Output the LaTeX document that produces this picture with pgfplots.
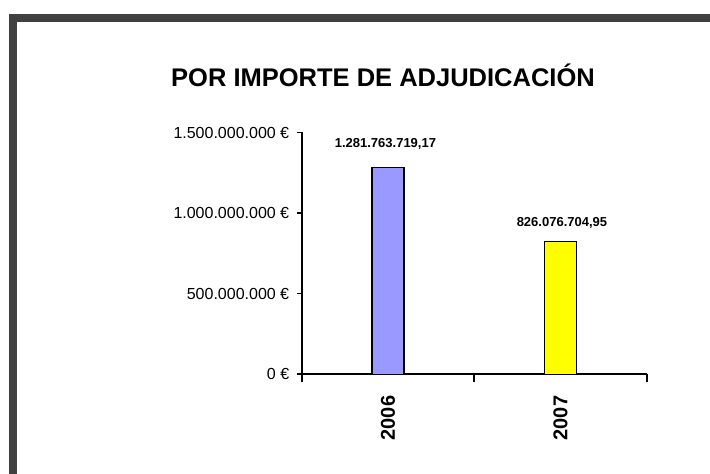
\documentclass[border=0pt]{standalone}
\usepackage{fontspec}
\setmainfont{Liberation Sans}
\usepackage{pgfplots}
\pgfplotsset{compat=1.18}
\definecolor{barblue}{RGB}{153,153,255}
\definecolor{baryellow}{RGB}{255,255,0}
\definecolor{frame}{RGB}{64,64,64}
\begin{document}
\begin{tikzpicture}
  % canvas: 1pt per pixel of the reference
  \path[use as bounding box, fill=white] (0,0) rectangle (710pt,474pt);
  % dark frame band on top and left
  \fill[frame] (9pt,452pt) rectangle (710pt,460pt);
  \fill[frame] (9pt,0pt) rectangle (17pt,460pt);
  \node[anchor=base, font=\fontsize{25.5}{30}\selectfont\bfseries] at (383pt,387.3pt) {POR IMPORTE DE ADJUDICACIÓN};
  \begin{axis}[
    at={(301.7pt,99.7pt)}, anchor=south west,
    scale only axis,
    width=345pt, height=241.8pt,
    xmin=0, xmax=2,
    ymin=0, ymax=1.5e9,
    scaled y ticks=false,
    axis lines*=left,
    axis line style={line width=1.6pt},
    tick align=outside,
    xtick={0.5,1.5},
    xticklabels={2006,2007},
    minor xtick={0,1,2},
    major x tick style={draw=none},
    minor x tick style={line width=1.6pt, black},
    minor tick length=8pt,
    ytick={0,500000000,1000000000,1500000000},
    yticklabels={0 €,500.000.000 €,1.000.000.000 €,1.500.000.000 €},
    major y tick style={line width=1.6pt, black},
    major tick length=5pt,
    yticklabel style={font=\fontsize{16}{19}\selectfont, xshift=-4pt},
    xticklabel style={rotate=90, anchor=east, font=\fontsize{20}{24}\selectfont\bfseries, xshift=-13pt},
    ybar, bar width=32pt, bar shift=0pt,
    nodes near coords style={font=\fontsize{13}{15}\selectfont\bfseries, anchor=base},
    clip=false,
  ]
  \addplot[fill=barblue, draw=black, line width=1.2pt,
    nodes near coords={1.281.763.719,17},
    every node near coord/.append style={yshift=20pt, xshift=-2.5pt}]
    coordinates {(0.5,1281763719.17)};
  \addplot[fill=baryellow, draw=black, line width=1.2pt,
    nodes near coords={826.076.704,95},
    every node near coord/.append style={yshift=15pt, xshift=1.5pt}]
    coordinates {(1.5,826076704.95)};
  \end{axis}
\end{tikzpicture}
\end{document}
